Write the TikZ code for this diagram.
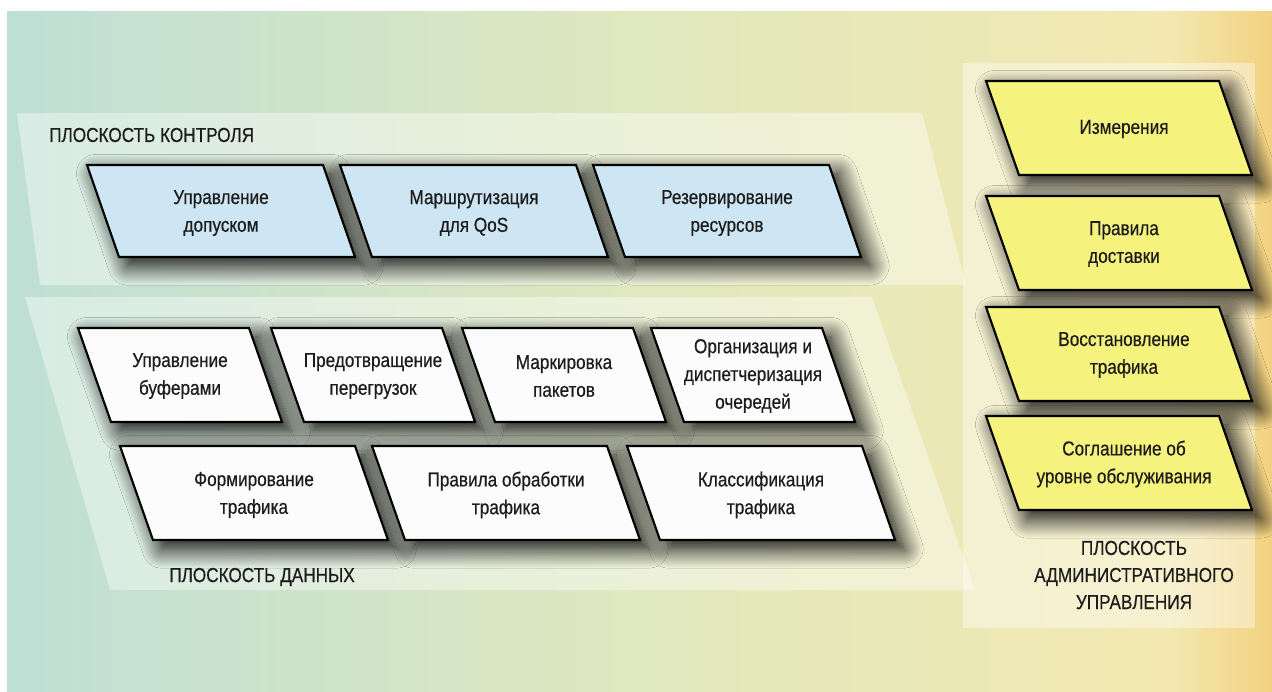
\documentclass[tikz,border=0pt]{standalone}
\usepackage{fontspec}
\setmainfont{Liberation Sans}
\newfontfamily\narrow[FakeStretch=0.85,FakeBold=0.5]{Liberation Sans}
\usetikzlibrary{shadows.blur}
\definecolor{bgleft}{RGB}{190,223,213}
\definecolor{bgmid}{RGB}{224,232,190}
\definecolor{bgright}{RGB}{243,232,176}
\definecolor{bgedge}{RGB}{242,210,128}
\definecolor{ctrlblue}{RGB}{206,230,243}
\definecolor{admyellow}{RGB}{245,242,125}
\definecolor{boxwhite}{RGB}{252,252,252}
\definecolor{ink}{RGB}{28,28,28}
\pgfdeclarehorizontalshading{paper}{100bp}{color(0bp)=(bgleft); color(25bp)=(bgleft);
  color(50bp)=(bgmid); color(71bp)=(bgright); color(75bp)=(bgedge); color(100bp)=(bgedge)}
\begin{document}
\begin{tikzpicture}[x=0.02cm, y=-0.02cm,
  plate/.style={draw=black, line width=1.2pt, line join=miter,
    blur shadow={shadow xshift=5pt, shadow yshift=-5pt, shadow blur radius=11pt,
      shadow blur steps=20, shadow opacity=100}},
  label/.style={font=\narrow\fontsize{11.5pt}{15.8pt}\selectfont, text=ink, align=center},
  glass/.style={fill=white, fill opacity=0.4}]
	\useasboundingbox (0,0) rectangle (1272,691);
	\fill[white] (0,0) rectangle (1272,691);
	\shade[shading=paper] (7,11) rectangle (1272,691);
%	planes
	\fill[glass] (17,113) -- (922,113) -- (966,285) -- (40,285) -- cycle;
	\fill[glass] (25,297) -- (872,297) -- (975,590) -- (110,590) -- cycle;
	\fill[glass] (963,63) rectangle (1255,628);
%	control plane
	\foreach \x/\txt [count=\i] in {87/{Управление\\допуском}, 340/{Маршрутизация\\для QoS}, 593/{Резервирование\\ресурсов}}
	{
	 \draw[plate, fill=ctrlblue] (\x,165) -- ++(236,0) -- ++(32,92) -- ++(-236,0) -- cycle;
	 \node[label] (ctrl\i) at (\x+134,213) {\txt};
	}
%	data plane
	\foreach \x/\txt [count=\i] in {78/{Управление\\буферами}, 271/{Предотвращение\\перегрузок}, 462/{Маркировка\\пакетов}, 651/{Организация и\\диспетчеризация\\очередей}}
	{
	 \draw[plate, fill=boxwhite] (\x,328) -- ++(171,0) -- ++(33,94) -- ++(-171,0) -- cycle;
	 \node[label] (data\i) at (\x+102,376) {\txt};
	}
	\foreach \x/\txt [count=\i] in {120/{Формирование\\трафика}, 372/{Правила обработки\\трафика}, 627/{Классификация\\трафика}}
	{
	 \draw[plate, fill=boxwhite] (\x,446) -- ++(235,0) -- ++(33,94) -- ++(-235,0) -- cycle;
	 \node[label] (flow\i) at (\x+134,495) {\txt};
	}
%	administrative plane
	\foreach \y/\txt [count=\i] in {81/{Измерения}, 196/{Правила\\доставки}, 307/{Восстановление\\трафика}, 416/{Соглашение об\\уровне обслуживания}}
	{
	 \draw[plate, fill=admyellow] (986,\y) -- ++(233,0) -- ++(33,94) -- ++(-233,0) -- cycle;
	 \node[label] (adm\i) at (1124,\y+48) {\txt};
	}
	\node[label, anchor=west] (ctrltitle) at (43,135) {ПЛОСКОСТЬ КОНТРОЛЯ};
	\node[label] (datatitle) at (262,577) {ПЛОСКОСТЬ ДАННЫХ};
	\node[label, font=\narrow\fontsize{11.5pt}{15.4pt}\selectfont] (admtitle) at (1134,575) {ПЛОСКОСТЬ\\АДМИНИСТРАТИВНОГО\\УПРАВЛЕНИЯ};
\end{tikzpicture}
\end{document}
